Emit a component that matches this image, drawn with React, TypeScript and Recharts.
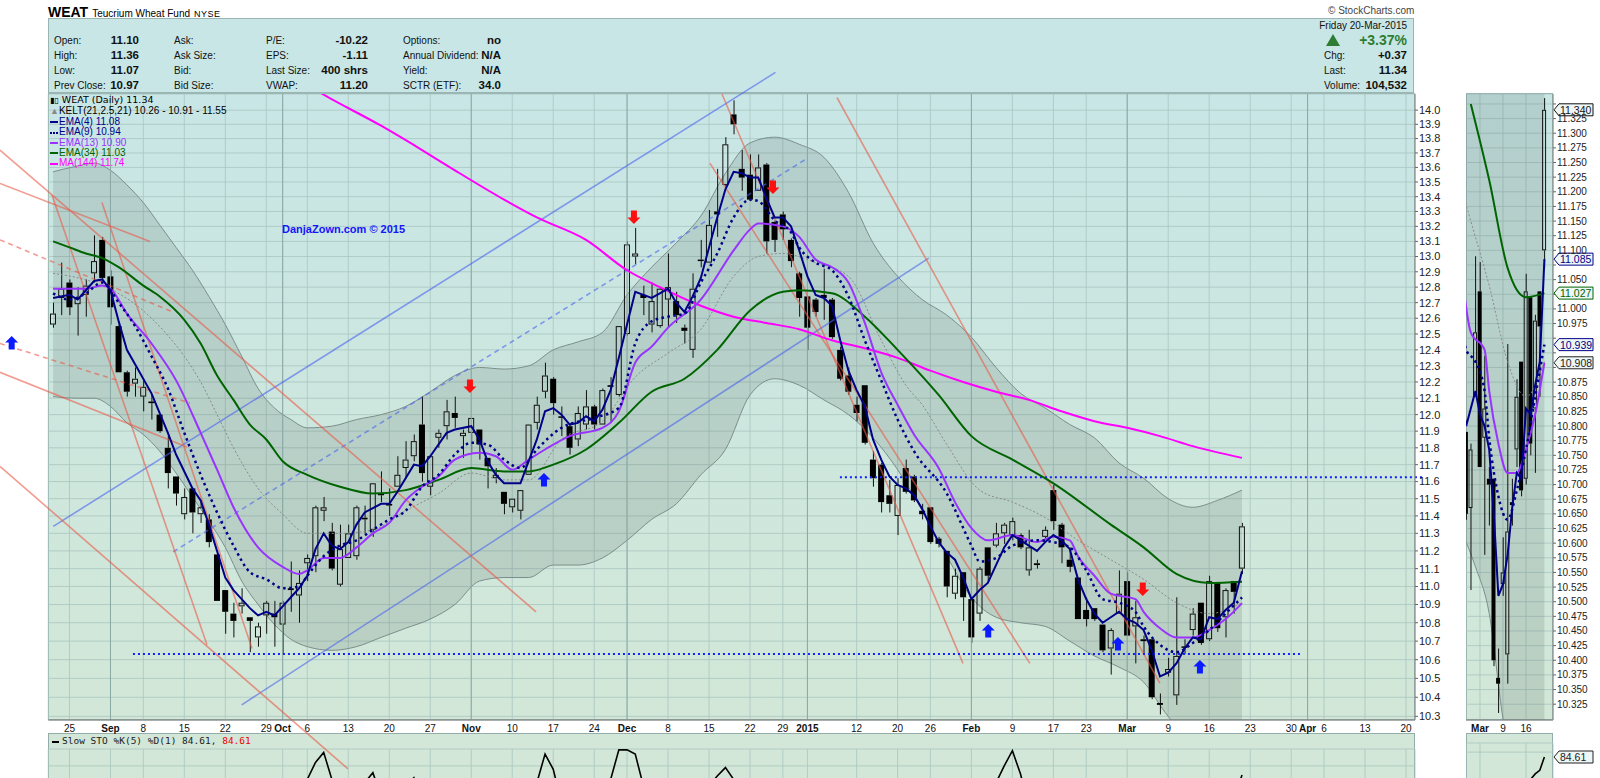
import React from 'react'
import {
  ComposedChart, Bar, Line, Area, XAxis, YAxis, CartesianGrid,
  ReferenceLine, ReferenceDot,
} from 'recharts'

// day index 0 = 21-Aug-2014 ... 145 = 20-Mar-2015, then empty future days to 166
const lastDay = 166

const open = [
  12.56, 12.73, 12.83, 12.69, 12.75, 12.89, 13.11, 12.87, 12.55, 12.26,
  12.19, 12.11, 12.08, 12.00, 11.80, 11.63, 11.41, 11.56, 11.41, 11.38,
  11.18, 10.98, 10.85, 10.89, 10.83, 10.72, 10.84, 10.85, 10.79, 10.99,
  10.95, 11.13, 11.17, 11.43, 11.31, 11.01, 11.16, 11.17, 11.39, 11.32,
  11.53, 11.47, 11.57, 11.68, 11.75, 11.94, 11.57, 11.86, 11.93, 12.01,
  11.87, 11.89, 11.91, 11.74, 11.62, 11.54, 11.45, 11.43, 11.64, 11.95,
  12.14, 12.22, 11.98, 11.93, 11.85, 11.94, 12.05, 11.94, 12.18, 12.12,
  12.50, 13.00, 12.75, 12.56, 12.55, 12.72, 12.71, 12.54, 12.40, 12.98,
  12.96, 13.30, 13.48, 13.97, 13.59, 13.55, 13.44, 13.62, 13.23, 13.28,
  13.11, 12.89, 12.74, 12.72, 12.75, 12.72, 12.40, 12.24, 12.06, 12.18,
  11.73, 11.70, 11.52, 11.40, 11.68, 11.63, 11.43, 11.45, 11.27, 11.20,
  10.96, 11.08, 10.93, 10.85, 11.22, 11.23, 11.30, 11.29, 11.29, 11.09,
  11.13, 11.28, 11.55, 11.35, 11.15, 11.05, 10.87, 10.88, 10.79, 10.66,
  10.85, 11.03, 10.78, 10.71, 10.71, 10.37, 10.53, 10.41, 10.67, 10.76,
  10.91, 10.71, 11.02, 10.83, 11.03, 11.10,
]
const high = [
  12.70, 12.96, 12.85, 12.80, 12.85, 13.14, 13.13, 12.91, 12.56, 12.27,
  12.29, 12.21, 12.12, 12.00, 11.87, 11.63, 11.56, 11.56, 11.48, 11.41,
  11.19, 10.98, 10.91, 10.99, 10.83, 10.80, 10.92, 10.92, 10.92, 11.14,
  11.09, 11.18, 11.46, 11.51, 11.36, 11.35, 11.35, 11.46, 11.46, 11.59,
  11.66, 11.56, 11.75, 11.84, 11.88, 12.11, 11.75, 11.91, 12.09, 12.11,
  11.91, 11.98, 11.91, 11.74, 11.68, 11.54, 11.50, 11.55, 11.94, 12.11,
  12.32, 12.23, 12.05, 11.95, 12.05, 12.15, 12.06, 12.16, 12.23, 12.55,
  13.10, 13.19, 12.81, 12.83, 12.80, 13.02, 12.77, 12.56, 12.89, 13.11,
  13.31, 13.59, 13.81, 14.07, 13.72, 13.69, 13.69, 13.63, 13.24, 13.30,
  13.12, 12.90, 12.74, 12.73, 12.92, 12.73, 12.42, 12.29, 12.11, 12.18,
  11.78, 11.71, 11.61, 11.62, 11.73, 11.64, 11.47, 11.45, 11.28, 11.20,
  11.10, 11.08, 10.94, 11.11, 11.22, 11.36, 11.36, 11.39, 11.30, 11.32,
  11.15, 11.34, 11.58, 11.36, 11.22, 11.05, 10.94, 10.88, 10.79, 10.77,
  11.09, 11.08, 10.92, 10.73, 10.71, 10.42, 10.61, 10.94, 10.71, 10.88,
  10.91, 11.06, 11.02, 10.99, 11.03, 11.36,
]
const low = [
  12.54, 12.62, 12.62, 12.49, 12.61, 12.83, 12.85, 12.56, 12.26, 12.11,
  12.11, 12.02, 11.97, 11.89, 11.56, 11.46, 11.38, 11.30, 11.36, 11.22,
  10.92, 10.74, 10.72, 10.85, 10.64, 10.67, 10.74, 10.67, 10.63, 10.86,
  10.80, 11.03, 11.08, 11.37, 11.09, 11.00, 11.16, 11.15, 11.30, 11.28,
  11.48, 11.40, 11.57, 11.62, 11.72, 11.60, 11.52, 11.80, 11.85, 11.92,
  11.74, 11.77, 11.73, 11.56, 11.59, 11.41, 11.42, 11.38, 11.64, 11.91,
  12.10, 12.00, 11.87, 11.76, 11.81, 11.91, 11.91, 11.94, 11.95, 12.11,
  12.49, 12.95, 12.62, 12.51, 12.54, 12.54, 12.57, 12.44, 12.35, 12.93,
  12.96, 13.13, 13.47, 13.83, 13.44, 13.37, 13.44, 13.02, 13.03, 13.11,
  12.93, 12.61, 12.40, 12.61, 12.59, 12.47, 12.21, 12.12, 11.96, 11.82,
  11.57, 11.42, 11.42, 11.29, 11.53, 11.48, 11.38, 11.24, 11.22, 10.94,
  10.93, 10.81, 10.69, 10.81, 11.02, 11.22, 11.24, 11.26, 11.21, 11.06,
  11.10, 11.27, 11.32, 11.13, 11.08, 10.82, 10.78, 10.81, 10.64, 10.52,
  10.85, 10.73, 10.58, 10.63, 10.39, 10.31, 10.51, 10.36, 10.63, 10.73,
  10.68, 10.70, 10.75, 10.72, 10.85, 11.07,
]
const close = [
  12.63, 12.79, 12.67, 12.73, 12.81, 12.97, 12.86, 12.67, 12.26, 12.14,
  12.22, 12.17, 12.07, 11.90, 11.65, 11.53, 11.51, 11.42, 11.45, 11.25,
  10.92, 10.86, 10.81, 10.91, 10.81, 10.78, 10.91, 10.83, 10.91, 10.98,
  11.02, 11.16, 11.45, 11.45, 11.10, 11.21, 11.30, 11.45, 11.38, 11.59,
  11.52, 11.46, 11.64, 11.73, 11.84, 11.65, 11.75, 11.89, 12.02, 11.98,
  11.89, 11.98, 11.82, 11.69, 11.64, 11.47, 11.50, 11.55, 11.94, 12.06,
  12.24, 12.07, 11.99, 11.80, 12.01, 12.05, 11.94, 12.15, 12.17, 12.55,
  13.08, 13.02, 12.73, 12.71, 12.79, 12.80, 12.62, 12.52, 12.79, 12.97,
  13.21, 13.28, 13.76, 13.90, 13.53, 13.38, 13.60, 13.10, 13.11, 13.18,
  12.97, 12.73, 12.54, 12.64, 12.73, 12.48, 12.22, 12.14, 12.01, 11.83,
  11.62, 11.48, 11.47, 11.58, 11.54, 11.49, 11.41, 11.25, 11.24, 11.00,
  11.06, 10.94, 10.72, 11.10, 11.06, 11.30, 11.35, 11.37, 11.22, 11.22,
  11.12, 11.32, 11.37, 11.22, 11.11, 10.82, 10.82, 10.82, 10.65, 10.76,
  10.96, 10.73, 10.83, 10.70, 10.40, 10.36, 10.55, 10.62, 10.665, 10.85,
  10.69, 11.03, 10.77, 10.98, 10.97, 11.34,
]

// indicator lines as [day, value]
const ema4 = [
  [0, 12.73], [2, 12.75], [3, 12.72], [4, 12.78], [5, 12.84], [6, 12.85], [7, 12.78], [8, 12.58], [9, 12.40], [10, 12.31],
  [12, 12.13], [14, 11.89], [15, 11.76], [17, 11.56], [18, 11.49], [19, 11.35], [21, 11.05], [22, 10.98], [24, 10.88], [25, 10.84],
  [26, 10.86], [27, 10.84], [28, 10.89], [29, 10.94], [30, 10.99], [31, 11.06], [32, 11.21], [33, 11.30], [34, 11.23], [35, 11.21],
  [36, 11.25], [37, 11.35], [38, 11.42], [40, 11.47], [41, 11.47], [42, 11.54], [44, 11.70], [45, 11.69], [46, 11.75], [48, 11.89],
  [49, 11.91], [51, 11.93], [52, 11.85], [53, 11.72], [54, 11.64], [55, 11.59], [57, 11.59], [58, 11.72], [59, 11.85], [60, 12.02],
  [61, 12.04], [62, 12.00], [63, 11.94], [64, 11.95], [65, 11.99], [66, 11.96], [67, 12.03], [68, 12.15], [69, 12.35], [70, 12.56],
  [71, 12.77], [72, 12.75], [73, 12.73], [74, 12.76], [75, 12.79], [76, 12.70], [77, 12.64], [78, 12.74], [79, 12.86], [80, 13.06],
  [81, 13.26], [82, 13.45], [83, 13.57], [84, 13.56], [85, 13.53], [86, 13.53], [87, 13.39], [88, 13.26], [89, 13.26], [90, 13.20],
  [91, 13.04], [92, 12.87], [93, 12.75], [94, 12.73], [95, 12.68], [96, 12.46], [97, 12.27], [98, 12.15], [99, 12.05], [100, 11.85],
  [101, 11.73], [102, 11.63], [103, 11.58], [104, 11.56], [105, 11.52], [106, 11.44], [107, 11.34], [108, 11.25], [109, 11.19], [110, 11.15],
  [111, 11.05], [112, 10.93], [113, 10.98], [114, 11.02], [115, 11.12], [116, 11.22], [117, 11.29], [118, 11.26], [119, 11.23], [120, 11.20],
  [121, 11.25], [122, 11.29], [123, 11.26], [124, 11.21], [125, 11.04], [126, 10.93], [127, 10.85], [128, 10.80], [129, 10.83], [130, 10.86],
  [131, 10.82], [132, 10.80], [133, 10.76], [134, 10.65], [135, 10.51], [136, 10.53], [137, 10.58], [138, 10.66], [139, 10.72], [140, 10.71],
  [141, 10.83], [142, 10.82], [143, 10.87], [144, 10.91], [145, 11.085],
]
const ema9 = [
  [0, 12.76], [2, 12.72], [4, 12.76], [6, 12.83], [8, 12.70], [10, 12.55], [12, 12.36], [14, 12.16], [16, 11.89], [18, 11.64],
  [20, 11.42], [22, 11.23], [24, 11.08], [26, 11.04], [28, 10.99], [30, 11.00], [31, 11.06], [33, 11.17], [35, 11.23], [37, 11.26],
  [39, 11.32], [41, 11.38], [43, 11.43], [45, 11.57], [47, 11.64], [49, 11.76], [51, 11.83], [53, 11.82], [55, 11.73], [57, 11.68],
  [59, 11.79], [62, 11.92], [66, 11.98], [69, 12.04], [71, 12.44], [73, 12.58], [75, 12.61], [77, 12.63], [79, 12.83], [81, 13.02],
  [83, 13.26], [85, 13.38], [86, 13.37], [88, 13.24], [90, 13.16], [91, 13.06], [93, 12.96], [95, 12.91], [97, 12.74], [99, 12.46],
  [101, 12.21], [103, 11.97], [105, 11.78], [109, 11.53], [112, 11.23], [113, 11.14], [115, 11.16], [117, 11.23], [120, 11.26], [122, 11.25],
  [124, 11.22], [126, 11.09], [128, 10.93], [130, 10.91], [132, 10.86], [133, 10.78], [135, 10.68], [137, 10.64], [139, 10.69], [141, 10.76],
  [143, 10.85], [145, 10.939],
]
const ema13 = [
  [0, 12.79], [4, 12.79], [6, 12.81], [7, 12.79], [9, 12.63], [12, 12.44], [15, 12.21], [18, 11.89], [20, 11.67], [22, 11.45],
  [25, 11.22], [28, 11.11], [30, 11.07], [31, 11.09], [33, 11.16], [35, 11.16], [37, 11.22], [39, 11.30], [41, 11.36], [43, 11.49],
  [45, 11.57], [47, 11.63], [49, 11.73], [52, 11.77], [54, 11.75], [56, 11.67], [58, 11.73], [60, 11.79], [63, 11.87], [67, 11.92],
  [69, 12.02], [71, 12.32], [73, 12.42], [75, 12.54], [79, 12.72], [83, 13.04], [85, 13.18], [86, 13.22], [89, 13.20], [91, 13.13],
  [93, 12.98], [95, 12.93], [97, 12.83], [99, 12.57], [101, 12.26], [103, 12.06], [105, 11.88], [108, 11.68], [110, 11.48], [112, 11.33],
  [114, 11.26], [117, 11.29], [120, 11.25], [122, 11.28], [124, 11.26], [125, 11.17], [127, 11.06], [129, 10.96], [132, 10.93], [133, 10.86],
  [135, 10.77], [137, 10.72], [139, 10.72], [141, 10.76], [143, 10.82], [145, 10.908],
]
const ema34 = [
  [0, 13.10], [2, 13.06], [4, 13.02], [6, 12.99], [8, 12.93], [11, 12.81], [13, 12.74], [16, 12.59], [18, 12.44], [20, 12.24],
  [22, 12.09], [24, 11.94], [26, 11.85], [28, 11.72], [31, 11.64], [35, 11.57], [39, 11.53], [43, 11.55], [47, 11.61], [51, 11.68],
  [55, 11.66], [58, 11.66], [61, 11.70], [65, 11.79], [69, 11.95], [73, 12.14], [77, 12.22], [81, 12.40], [85, 12.65], [89, 12.77],
  [91, 12.78], [95, 12.76], [99, 12.61], [103, 12.40], [108, 12.12], [112, 11.87], [117, 11.73], [122, 11.59], [129, 11.35], [133, 11.22],
  [137, 11.07], [141, 11.02], [145, 11.027],
]
const ma144 = [
  [28, 14.29], [33, 14.11], [40, 13.89], [45, 13.72], [49, 13.58], [55, 13.38], [59, 13.26], [65, 13.11], [70, 12.91], [74, 12.80],
  [79, 12.68], [83, 12.61], [87, 12.57], [91, 12.53], [95, 12.46], [99, 12.41], [103, 12.35], [107, 12.27], [111, 12.20], [115, 12.14],
  [119, 12.09], [123, 12.02], [127, 11.96], [131, 11.92], [135, 11.87], [139, 11.81], [145, 11.74],
]
const keltMid = [
  [0, 12.89], [6, 12.81], [10, 12.69], [12, 12.60], [14, 12.49], [16, 12.36], [18, 12.20], [20, 12.00], [22, 11.80], [25, 11.56],
  [28, 11.41], [31, 11.30], [35, 11.30], [39, 11.32], [43, 11.43], [47, 11.53], [51, 11.65], [55, 11.61], [58, 11.61], [62, 11.85],
  [67, 11.96], [71, 12.23], [75, 12.38], [79, 12.53], [83, 12.87], [86, 13.00], [89, 13.02], [93, 12.96], [97, 12.87], [101, 12.46],
  [104, 12.18], [106, 12.06], [109, 11.82], [113, 11.55], [117, 11.48], [121, 11.39], [125, 11.26], [129, 11.15], [133, 11.04], [137, 10.91],
  [141, 10.85], [145, 10.91],
]
const keltDays = [
  0, 3, 5, 7, 9, 11, 13, 15, 17, 19, 21, 23, 25, 27, 29, 31, 34, 37, 40, 43, 46, 49, 52, 55, 58, 61, 64, 67, 70, 73,
  76, 79, 82, 85, 88, 91, 94, 97, 100, 103, 106, 109, 112, 115, 118, 121, 124, 127, 130, 133, 136, 139, 142, 145,
]
const keltUpper = [
  13.57, 13.61, 13.63, 13.58, 13.48, 13.36, 13.21, 13.06, 12.91, 12.74, 12.56, 12.36, 12.16, 12.04, 11.97, 11.92, 11.93, 11.97, 12.00, 12.05,
  12.14, 12.24, 12.29, 12.28, 12.30, 12.40, 12.45, 12.51, 12.75, 12.93, 13.09, 13.27, 13.56, 13.77, 13.81, 13.76, 13.67, 13.43, 13.09, 12.87,
  12.72, 12.62, 12.48, 12.29, 12.13, 12.04, 11.94, 11.86, 11.71, 11.62, 11.50, 11.45, 11.49, 11.55,
]
const keltLower = [
  12.11, 12.10, 12.10, 12.05, 11.95, 11.88, 11.78, 11.65, 11.51, 11.37, 11.22, 11.03, 10.90, 10.79, 10.71, 10.67, 10.65, 10.67, 10.72, 10.77,
  10.82, 10.90, 11.03, 11.05, 11.05, 11.12, 11.12, 11.16, 11.26, 11.38, 11.47, 11.64, 11.79, 12.12, 12.22, 12.18, 12.09, 12.00, 11.86, 11.67,
  11.43, 11.17, 10.94, 10.83, 10.80, 10.78, 10.70, 10.62, 10.56, 10.48, 10.30, 10.18, 10.20, 10.26,
]
const slowSto = [
  [0, 45], [5, 55], [10, 20], [15, 10], [20, 8], [24, 15], [27, 40], [29, 55], [30, 68], [31, 82], [32, 92], [33, 98], [34, 82],
  [35, 62], [36, 60], [37, 72], [38, 80], [39, 86], [40, 72], [41, 60], [42, 68], [43, 78], [44, 83], [45, 68], [47, 60], [49, 65],
  [51, 55], [53, 35], [55, 20], [57, 30], [58, 62], [59, 80], [60, 97], [61, 88], [62, 68], [64, 60], [66, 62], [67, 70], [68, 82],
  [69, 99.5], [70, 99.5], [71, 97], [72, 78], [74, 65], [76, 55], [78, 65], [80, 78], [81, 84], [82, 89], [83, 82], [84, 70], [86, 60],
  [88, 40], [90, 30], [93, 25], [96, 15], [100, 8], [104, 15], [108, 10], [112, 12], [113, 45], [114, 70], [115, 80], [116, 90],
  [117, 99], [118, 85], [119, 65], [121, 70], [122, 72], [124, 50], [127, 25], [130, 35], [132, 30], [135, 10], [138, 40], [140, 55],
  [142, 60], [143, 66], [144, 70], [145, 84.61],
]

// axis ticks
const dateTicks = [2, 7, 11, 16, 21, 26, 28, 31, 36, 41, 46, 51, 56, 61, 66, 70, 75, 80, 85, 89, 92, 98, 103, 107, 112, 117, 122, 126, 131, 136, 141, 146, 151, 153, 155, 160, 165]
const dateLabels = ['25', 'Sep', '8', '15', '22', '29', 'Oct', '6', '13', '20', '27', 'Nov', '10', '17', '24', 'Dec', '8', '15', '22', '29', '2015', '12', '20', '26', 'Feb', '9', '17', '23', 'Mar', '9', '16', '23', '30', 'Apr', '6', '13', '20']
const monthLabels = ['Sep', 'Oct', 'Nov', 'Dec', '2015', 'Feb', 'Mar', 'Apr']
const monthDays = [7, 28, 51, 70, 92, 112, 131, 153]
const priceTicks = [
  10.3, 10.4, 10.5, 10.6, 10.7, 10.8, 10.9, 11.0, 11.1, 11.2, 11.3, 11.4, 11.5, 11.6, 11.7, 11.8, 11.9, 12.0, 12.1,
  12.2, 12.3, 12.4, 12.5, 12.6, 12.7, 12.8, 12.9, 13.0, 13.1, 13.2, 13.3, 13.4, 13.5, 13.6, 13.7, 13.8, 13.9, 14.0,
]
const zoomTicks = [
  10.325, 10.35, 10.375, 10.4, 10.425, 10.45, 10.475, 10.5, 10.525, 10.55, 10.575, 10.6, 10.625, 10.65, 10.675, 10.7,
  10.725, 10.75, 10.775, 10.8, 10.825, 10.85, 10.875, 10.9, 10.925, 10.95, 10.975, 11.0, 11.025, 11.05, 11.075, 11.1,
  11.125, 11.15, 11.175, 11.2, 11.225, 11.25, 11.275, 11.3, 11.325, 11.35,
]
const zoomDateTicks = [131, 136, 141]
const zoomDateLabels = ['Mar', '9', '16']

// last-value tags on the zoom panel axis
const zoomTags = [
  { v: 11.34, t: '11.340', c: '#111' },
  { v: 11.085, t: '11.085', c: '#000088' },
  { v: 11.027, t: '11.027', c: '#006400' },
  { v: 10.939, t: '10.939', c: '#000088' },
  { v: 10.908, t: '10.908', c: '#222' },
]

// hand-drawn annotations, [day, price]
const trendLines = [
  { from: [0.02, 11.34], to: [88.1, 14.27], color: 'blue', dash: '' },
  { from: [23.0, 10.36], to: [106.8, 12.99], color: 'blue', dash: '' },
  { from: [14.66, 11.195], to: [91.9, 13.66], color: 'blue', dash: '5 4' },
  { from: [-6.48, 13.49], to: [11.82, 13.10], color: 'red', dash: '' },
  { from: [-6.48, 13.72], to: [58.9, 10.86], color: 'red', dash: '' },
  { from: [-6.48, 13.11], to: [14.62, 12.64], color: 'red', dash: '5 4' },
  { from: [-6.48, 12.44], to: [16.7, 12.07], color: 'red', dash: '5 4' },
  { from: [-6.48, 12.26], to: [16.33, 11.805], color: 'red', dash: '' },
  { from: [-6.48, 11.69], to: [35.96, 10.03], color: 'red', dash: '' },
  { from: [-0.13, 13.41], to: [18.77, 10.68], color: 'red', dash: '' },
  { from: [5.96, 13.36], to: [24.26, 10.66], color: 'red', dash: '' },
  { from: [81.58, 14.115], to: [110.97, 10.58], color: 'red', dash: '' },
  { from: [80.1, 13.63], to: [119.13, 10.58], color: 'red', dash: '' },
  { from: [95.6, 14.09], to: [134.98, 10.475], color: 'red', dash: '' },
]
const supportLines = [
  { from: 9.74, to: 152.2, price: 10.63 },
  { from: 95.96, to: 167.1, price: 11.625 },
]
const downArrows = [[50.84, 12.175], [70.84, 13.263], [87.8, 13.466], [132.9, 10.986]]
const upArrows = [[-5.05, 12.443], [59.87, 11.609], [114.05, 10.755], [129.87, 10.684], [139.87, 10.561]]

const headerRows = [
  ['Open:', '11.10', 'Ask:', 'P/E:', '-10.22', 'Options:', 'no'],
  ['High:', '11.36', 'Ask Size:', 'EPS:', '-1.11', 'Annual Dividend:', 'N/A'],
  ['Low:', '11.07', 'Bid:', 'Last Size:', '400 shrs', 'Yield:', 'N/A'],
  ['Prev Close:', '10.97', 'Bid Size:', 'VWAP:', '11.20', 'SCTR (ETF):', '34.0'],
]

const NAVY = '#000088'
const PURPLE = '#9933ff'
const GREEN = '#006400'
const MAGENTA = '#ff00ff'
const RED_LINE = '#ea5a48'
const BLUE_LINE = '#4a62ee'
const GRID = '#a9c5c1'
const SANS = "'Liberation Sans', Arial, sans-serif"

const toMap = (pairs: number[][]) => new Map(pairs.map(([k, v]) => [k, v]))
const m4 = toMap(ema4), m9 = toMap(ema9), m13 = toMap(ema13), m34 = toMap(ema34)
const m144 = toMap(ma144), mMid = toMap(keltMid), mSto = toMap(slowSto)

const rows = Array.from({ length: lastDay + 1 }, (_, i) => {
  const r: any = { i }
  if (i < close.length) {
    const o = open[i], c = close[i]
    const top = Math.max(o, c), bot = Math.min(o, c)
    r.body = [bot, top]
    r.wickUp = [top, high[i]]
    r.wickDn = [low[i], bot]
    r.hollow = c >= o
  }
  r.ema4 = m4.get(i) ?? null
  r.ema9 = m9.get(i) ?? null
  r.ema13 = m13.get(i) ?? null
  r.ema34 = m34.get(i) ?? null
  r.ma144 = m144.get(i) ?? null
  r.mid = mMid.get(i) ?? null
  r.sto = mSto.get(i) ?? null
  const k = keltDays.indexOf(i)
  r.kelt = k >= 0 ? [keltLower[k], keltUpper[k]] : null
  return r
})
const zoomRows = rows.filter((r) => r.i >= 125 && r.i <= 146)

const Wick = (p: any) =>
  p.height > 0.3 ? <rect x={p.x + p.width / 2 - 0.5} y={p.y} width={1} height={p.height} fill="#111" /> : null

const Body = (p: any) => {
  if (!p.payload || !p.payload.body) return null
  if (p.height < 1.6) {
    return <rect x={p.x} y={p.y + p.height / 2 - 0.75} width={p.width} height={1.5} fill="#000" />
  }
  if (p.payload.hollow) {
    return <rect x={p.x + 0.5} y={p.y + 0.5} width={p.width - 1} height={p.height - 1} fill="none" stroke="#111" strokeWidth={1} />
  }
  return <rect x={p.x} y={p.y} width={p.width} height={p.height} fill="#000" />
}

const Arrow = ({ cx, cy, up }: any) => {
  const d = up
    ? `M${cx} ${cy - 7} L${cx + 6.5} ${cy - 0.5} L${cx + 3} ${cy - 0.5} L${cx + 3} ${cy + 6.5} L${cx - 3} ${cy + 6.5} L${cx - 3} ${cy - 0.5} L${cx - 6.5} ${cy - 0.5} Z`
    : `M${cx} ${cy + 7} L${cx + 6.5} ${cy + 0.5} L${cx + 3} ${cy + 0.5} L${cx + 3} ${cy - 6.5} L${cx - 3} ${cy - 6.5} L${cx - 3} ${cy + 0.5} L${cx - 6.5} ${cy + 0.5} Z`
  return <path d={d} fill={up ? '#0a1cff' : '#ff1010'} />
}

const Tag = ({ cx, cy, text, color }: any) => (
  <g>
    <path d={`M${cx + 1} ${cy} L${cx + 6} ${cy - 6} L${cx + 40} ${cy - 6} L${cx + 40} ${cy + 6} L${cx + 6} ${cy + 6} Z`} fill="#eef6f6" stroke={color} strokeWidth={1} />
    <text x={cx + 7} y={cy + 4} fontSize={10.5} fontFamily={SANS} fill={color}>{text}</text>
  </g>
)

const DateTick = ({ x, y, payload }: any) => {
  const t = dateLabels[dateTicks.indexOf(payload.value)]
  return (
    <text x={x} y={y + 10} textAnchor="middle" fontSize={10} fontFamily={SANS}
      fontWeight={monthLabels.includes(t) ? 'bold' : 'normal'} fill="#111">{t}</text>
  )
}
const ZoomDateTick = ({ x, y, payload }: any) => {
  const t = zoomDateLabels[zoomDateTicks.indexOf(payload.value)]
  return (
    <text x={x} y={y + 10} textAnchor="middle" fontSize={10} fontFamily={SANS}
      fontWeight={t === 'Mar' ? 'bold' : 'normal'} fill="#111">{t}</text>
  )
}
// price labels hidden behind a last-value tag are left out, as in the original
const ZoomPriceTick = ({ x, y, payload }: any) => {
  const v = payload.value
  if (zoomTags.some((g) => Math.abs(g.v - v) < 0.0145)) return null
  return (
    <text x={x} y={y + 3.5} fontSize={10} fontFamily={SANS} fill="#222">{v.toFixed(3)}</text>
  )
}

const X_DOMAIN = [-0.585, 166.1]
const Y_DOMAIN = [10.281, 14.115]
const ZX_DOMAIN = [127.96, 146.87]
const ZY_DOMAIN = [10.298, 11.367]

const plotBg = 'linear-gradient(#c8e6e6, #d2e7d7)'

function Legend() {
  const items = [
    { t: 'EMA(4) 11.08', c: NAVY, dash: false },
    { t: 'EMA(9) 10.94', c: NAVY, dash: true },
    { t: 'EMA(13) 10.90', c: PURPLE, dash: false },
    { t: 'EMA(34) 11.03', c: GREEN, dash: false },
    { t: 'MA(144) 11.74', c: MAGENTA, dash: false },
  ]
  return (
    <div style={{ position: 'absolute', left: 50, top: 94, fontFamily: SANS, fontSize: 10, lineHeight: '10.4px' }}>
      <div style={{ fontFamily: "'DejaVu Sans', sans-serif", fontSize: 9.5, paddingTop: 1 }}>
        <span style={{ fontWeight: 'bold', fontSize: 8 }}>▮▯</span> WEAT (Daily) 11.34
      </div>
      <div><span style={{ color: '#888', fontSize: 9 }}>▲</span>KELT(21,2.5,21) 10.26 - 10.91 - 11.55</div>
      {items.map((it) => (
        <div key={it.t} style={{ color: it.c }}>
          <span style={{ display: 'inline-block', width: 8, marginRight: 1, verticalAlign: 'middle', borderTop: `2px ${it.dash ? 'dotted' : 'solid'} ${it.c}` }} />
          {it.t}
        </div>
      ))}
    </div>
  )
}

function Header() {
  const rowY = [35, 50, 65, 80]
  const cell = (text: string, left: number, top: number, bold = false, right = false) => (
    <div style={{
      position: 'absolute', top, ...(right ? { right: 1600 - left } : { left }),
      fontFamily: SANS, fontSize: bold ? 11.5 : 10, fontWeight: bold ? 'bold' : 'normal', color: '#111', whiteSpace: 'nowrap',
    }}>{text}</div>
  )
  return (
    <>
      <div style={{ position: 'absolute', left: 48, top: 3, fontFamily: SANS, whiteSpace: 'nowrap' }}>
        <span style={{ fontWeight: 'bold', fontSize: 14 }}>WEAT</span>
        <span style={{ fontSize: 10, marginLeft: 4 }}>Teucrium Wheat Fund</span>
        <span style={{ fontSize: 9, marginLeft: 4, letterSpacing: 0.5 }}>NYSE</span>
      </div>
      <div style={{ position: 'absolute', left: 1328, top: 5, fontFamily: SANS, fontSize: 10, color: '#444' }}>© StockCharts.com</div>
      <div style={{ position: 'absolute', left: 48, top: 18, width: 1366, height: 75, background: '#c8e6e6', border: '1px solid #9bb5b3', boxSizing: 'border-box' }} />
      {headerRows.map((r, k) => (
        <React.Fragment key={k}>
          {cell(r[0], 54, rowY[k])}
          {cell(r[1], 139, rowY[k] - 1, true, true)}
          {cell(r[2], 174, rowY[k])}
          {cell(r[3], 266, rowY[k])}
          {cell(r[4], 368, rowY[k] - 1, true, true)}
          {cell(r[5], 403, rowY[k])}
          {cell(r[6], 501, rowY[k] - 1, true, true)}
        </React.Fragment>
      ))}
      {cell('Friday  20-Mar-2015', 1407, 20, false, true)}
      <div style={{ position: 'absolute', left: 1326, top: 34, width: 0, height: 0, borderLeft: '7px solid transparent', borderRight: '7px solid transparent', borderBottom: '12px solid #2e7d32' }} />
      <div style={{ position: 'absolute', right: 1600 - 1407, top: 32, fontFamily: SANS, fontSize: 14, fontWeight: 'bold', color: '#2e7d32' }}>+3.37%</div>
      {cell('Chg:', 1324, 50)}
      {cell('+0.37', 1407, 49, true, true)}
      {cell('Last:', 1324, 65)}
      {cell('11.34', 1407, 64, true, true)}
      {cell('Volume:', 1324, 80)}
      {cell('104,532', 1407, 79, true, true)}
    </>
  )
}

function MainChart() {
  return (
    <ComposedChart width={1460} height={778} data={rows} margin={{ top: 94, right: 0, bottom: 45, left: 48.3 }}>
      <XAxis xAxisId="px" dataKey="i" type="number" domain={X_DOMAIN} allowDataOverflow ticks={dateTicks} interval={0}
        tick={<DateTick />} tickLine={false} tickSize={0} height={13} axisLine={{ stroke: '#777' }} />
      <XAxis xAxisId="wu" dataKey="i" type="number" domain={X_DOMAIN} allowDataOverflow hide />
      <XAxis xAxisId="wd" dataKey="i" type="number" domain={X_DOMAIN} allowDataOverflow hide />
      <YAxis yAxisId="p" orientation="right" scale="log" domain={Y_DOMAIN} allowDataOverflow ticks={priceTicks} interval={0}
        width={45} tickSize={3} tickMargin={1} tickFormatter={(v: number) => v.toFixed(1)}
        tick={{ fontSize: 11, fontFamily: SANS, fill: '#222' }} axisLine={{ stroke: '#888' }} tickLine={{ stroke: '#666' }} />
      <CartesianGrid xAxisId="px" yAxisId="p" stroke={GRID} strokeOpacity={0.8} />
      {monthDays.map((d) => (
        <ReferenceLine key={d} xAxisId="px" yAxisId="p" x={d} stroke="#8aa9a4" strokeWidth={1} />
      ))}
      <Area xAxisId="px" yAxisId="p" dataKey="kelt" type="monotone" connectNulls stroke="#7c8e8b" strokeWidth={1}
        fill="#4f5e5b" fillOpacity={0.17} isAnimationActive={false} />
      <Line xAxisId="px" yAxisId="p" dataKey="mid" type="monotone" connectNulls stroke="#8a8a8a" strokeWidth={1}
        strokeDasharray="2 2" dot={false} isAnimationActive={false} />
      {trendLines.map((t, k) => (
        <ReferenceLine key={k} xAxisId="px" yAxisId="p" ifOverflow="visible"
          segment={[{ x: t.from[0], y: t.from[1] }, { x: t.to[0], y: t.to[1] }]}
          stroke={t.color === 'red' ? RED_LINE : BLUE_LINE} strokeOpacity={0.6} strokeWidth={1.6}
          strokeDasharray={t.dash || undefined} />
      ))}
      {supportLines.map((s, k) => (
        <ReferenceLine key={'s' + k} xAxisId="px" yAxisId="p" ifOverflow="visible"
          segment={[{ x: s.from, y: s.price }, { x: s.to, y: s.price }]}
          stroke="#1020ff" strokeWidth={2} strokeDasharray="2 3" />
      ))}
      <Line xAxisId="px" yAxisId="p" dataKey="ma144" type="monotone" connectNulls stroke={MAGENTA} strokeWidth={2} dot={false} isAnimationActive={false} />
      <Line xAxisId="px" yAxisId="p" dataKey="ema34" type="monotone" connectNulls stroke={GREEN} strokeWidth={2} dot={false} isAnimationActive={false} />
      <Line xAxisId="px" yAxisId="p" dataKey="ema13" type="monotone" connectNulls stroke={PURPLE} strokeWidth={2} dot={false} isAnimationActive={false} />
      <Line xAxisId="px" yAxisId="p" dataKey="ema9" type="monotone" connectNulls stroke={NAVY} strokeWidth={2.5} strokeDasharray="2.5 3.5" dot={false} isAnimationActive={false} />
      <Line xAxisId="px" yAxisId="p" dataKey="ema4" type="linear" connectNulls stroke={NAVY} strokeWidth={2} dot={false} isAnimationActive={false} />
      <Bar xAxisId="wu" yAxisId="p" dataKey="wickUp" barSize={1} shape={Wick} isAnimationActive={false} />
      <Bar xAxisId="wd" yAxisId="p" dataKey="wickDn" barSize={1} shape={Wick} isAnimationActive={false} />
      <Bar xAxisId="px" yAxisId="p" dataKey="body" barSize={6} shape={Body} isAnimationActive={false} />
      {downArrows.map(([x, y], k) => (
        <ReferenceDot key={'d' + k} xAxisId="px" yAxisId="p" x={x} y={y} r={6} ifOverflow="visible" shape={(p: any) => <Arrow {...p} up={false} />} />
      ))}
      {upArrows.map(([x, y], k) => (
        <ReferenceDot key={'u' + k} xAxisId="px" yAxisId="p" x={x} y={y} r={6} ifOverflow="visible" shape={(p: any) => <Arrow {...p} up />} />
      ))}
    </ComposedChart>
  )
}

function ZoomChart() {
  return (
    <ComposedChart width={134} height={735} data={zoomRows} margin={{ top: 94, right: 0, bottom: 2, left: 0 }}>
      <XAxis xAxisId="px" dataKey="i" type="number" domain={ZX_DOMAIN} allowDataOverflow ticks={zoomDateTicks} interval={0}
        tick={<ZoomDateTick />} tickLine={false} tickSize={0} height={13} axisLine={{ stroke: '#777' }} />
      <XAxis xAxisId="wu" dataKey="i" type="number" domain={ZX_DOMAIN} allowDataOverflow hide />
      <XAxis xAxisId="wd" dataKey="i" type="number" domain={ZX_DOMAIN} allowDataOverflow hide />
      <YAxis yAxisId="p" orientation="right" domain={ZY_DOMAIN} allowDataOverflow ticks={zoomTicks} interval={0}
        width={47} tickSize={3} tickMargin={1} tick={<ZoomPriceTick />}
        axisLine={{ stroke: '#888' }} tickLine={{ stroke: '#666' }} />
      <CartesianGrid xAxisId="px" yAxisId="p" stroke={GRID} strokeOpacity={0.8} />
      <Area xAxisId="px" yAxisId="p" dataKey="kelt" type="monotone" connectNulls stroke="#7c8e8b" strokeWidth={1}
        fill="#4f5e5b" fillOpacity={0.17} isAnimationActive={false} />
      <Line xAxisId="px" yAxisId="p" dataKey="mid" type="monotone" connectNulls stroke="#8a8a8a" strokeWidth={1} strokeDasharray="2 2" dot={false} isAnimationActive={false} />
      <Line xAxisId="px" yAxisId="p" dataKey="ema34" type="monotone" connectNulls stroke={GREEN} strokeWidth={2} dot={false} isAnimationActive={false} />
      <Line xAxisId="px" yAxisId="p" dataKey="ema13" type="monotone" connectNulls stroke={PURPLE} strokeWidth={2} dot={false} isAnimationActive={false} />
      <Line xAxisId="px" yAxisId="p" dataKey="ema9" type="monotone" connectNulls stroke={NAVY} strokeWidth={2.5} strokeDasharray="2.5 3.5" dot={false} isAnimationActive={false} />
      <Line xAxisId="px" yAxisId="p" dataKey="ema4" type="linear" connectNulls stroke={NAVY} strokeWidth={2} dot={false} isAnimationActive={false} />
      <Bar xAxisId="wu" yAxisId="p" dataKey="wickUp" barSize={1} shape={Wick} isAnimationActive={false} />
      <Bar xAxisId="wd" yAxisId="p" dataKey="wickDn" barSize={1} shape={Wick} isAnimationActive={false} />
      <Bar xAxisId="px" yAxisId="p" dataKey="body" barSize={4} shape={Body} isAnimationActive={false} />
      {zoomTags.map((g) => (
        <ReferenceDot key={g.t} xAxisId="px" yAxisId="p" x={ZX_DOMAIN[1]} y={g.v} r={1} ifOverflow="visible"
          shape={(p: any) => <Tag {...p} text={g.t} color={g.c} />} />
      ))}
    </ComposedChart>
  )
}

function StoChart({ width, xDomain, left, right, top, plotH, data, tag }: any) {
  return (
    <ComposedChart width={width} height={200} data={data} margin={{ top, right, bottom: 200 - top - plotH, left }}>
      <XAxis xAxisId="px" dataKey="i" type="number" domain={xDomain} allowDataOverflow hide
        ticks={xDomain[0] > 100 ? zoomDateTicks : dateTicks} />
      <YAxis yAxisId="s" domain={[0, 100]} allowDataOverflow hide ticks={[10, 20, 30, 40, 50, 60, 70, 80, 90]} />
      <CartesianGrid xAxisId="px" yAxisId="s" stroke={GRID} strokeOpacity={0.8} />
      <Line xAxisId="px" yAxisId="s" dataKey="sto" type="linear" connectNulls stroke="#000" strokeWidth={1.6} dot={false} isAnimationActive={false} />
      {tag && (
        <ReferenceDot xAxisId="px" yAxisId="s" x={xDomain[1]} y={84.61} r={1} ifOverflow="visible"
          shape={(p: any) => <Tag {...p} text="84.61" color="#222" />} />
      )}
    </ComposedChart>
  )
}

export default function App() {
  return (
    <div style={{ position: 'absolute', left: 0, top: 0, width: 1600, height: 778, overflow: 'hidden', background: '#fff' }}>
      <Header />
      <div style={{ position: 'absolute', left: 48, top: 93, width: 1367, height: 627, background: plotBg, border: '1px solid #93aeaa', boxSizing: 'border-box' }} />
      <div style={{ position: 'absolute', left: 1466, top: 93, width: 87, height: 627, background: plotBg, border: '1px solid #93aeaa', boxSizing: 'border-box' }} />
      <div style={{ position: 'absolute', left: 48, top: 733, width: 1367, height: 60, background: '#d2e7d7', border: '1px solid #93aeaa', boxSizing: 'border-box' }} />
      <div style={{ position: 'absolute', left: 1466, top: 733, width: 87, height: 60, background: '#d2e7d7', border: '1px solid #93aeaa', boxSizing: 'border-box' }} />
      <div style={{ position: 'absolute', left: 0, top: 733 }}>
        <StoChart width={1460} xDomain={X_DOMAIN} left={48.3} right={45} top={16} plotH={169} data={rows} />
      </div>
      <div style={{ position: 'absolute', left: 1466, top: 733 }}>
        <StoChart width={134} xDomain={ZX_DOMAIN} left={0} right={47} top={10} plotH={91} data={zoomRows} tag />
      </div>
      <div style={{ position: 'absolute', left: 52, top: 735, fontFamily: "'DejaVu Sans Mono', monospace", fontSize: 9.5, color: '#222', whiteSpace: 'nowrap' }}>
        <span style={{ display: 'inline-block', width: 7, borderTop: '2px solid #000', verticalAlign: 'middle', marginRight: 3 }} />
        Slow STO %K(5) %D(1) 84.61, <span style={{ color: '#e00' }}>84.61</span>
      </div>
      <div style={{ position: 'absolute', left: 1466, top: 0 }}>
        <ZoomChart />
      </div>
      <div style={{ position: 'absolute', left: 0, top: 0 }}>
        <MainChart />
      </div>
      <Legend />
      <div style={{ position: 'absolute', left: 282, top: 223, fontFamily: SANS, fontSize: 11, fontWeight: 'bold', color: '#1414ff' }}>
        DanjaZown.com © 2015
      </div>
    </div>
  )
}
